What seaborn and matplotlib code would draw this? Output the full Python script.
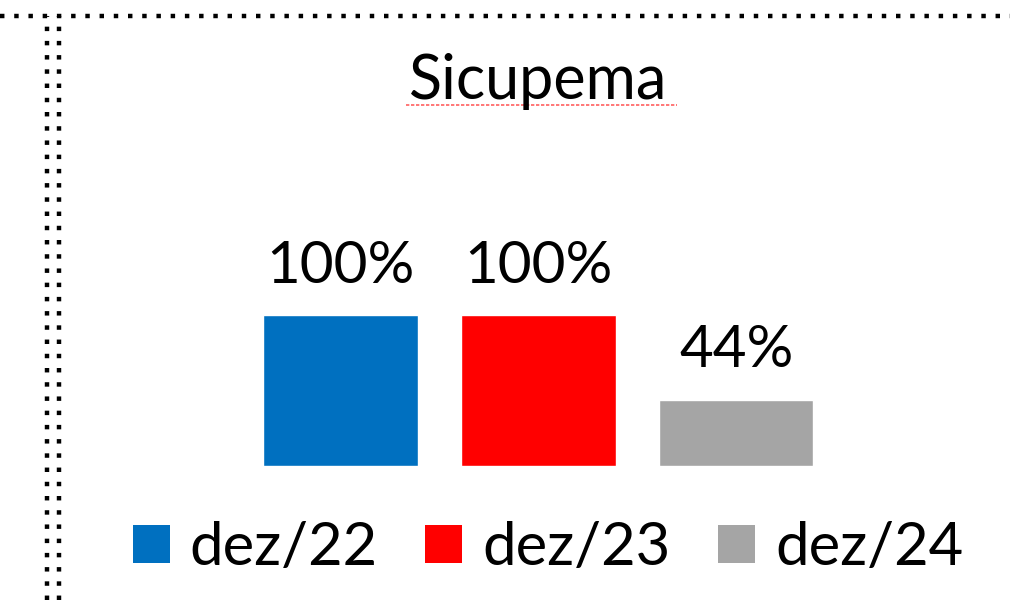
import matplotlib
matplotlib.use('Agg')
import matplotlib.pyplot as plt
import seaborn as sns
from matplotlib.lines import Line2D
from matplotlib.patches import Patch

periods = ['dez/22', 'dez/23', 'dez/24']
values = [1.00, 1.00, 0.44]
labels = ['100%', '100%', '44%']
colors = ['#0070C0', '#FF0000', '#A5A5A5']
title = 'Sicupema'

sns.set_style('white')
plt.rcParams['font.family'] = ['Lato', 'DejaVu Sans']
plt.rcParams['text.color'] = 'black'

fig = plt.figure(figsize=(10.1, 6), dpi=100)
ax = fig.add_axes([0.239, 0.2233, 0.588, 0.2517])

sns.barplot(x=periods, y=values, hue=periods, palette=colors, width=0.78,
            legend=False, saturation=1, ax=ax)
ax.set_ylim(0, 1)
ax.set_xlim(-0.5, 2.5)
ax.axis('off')

for cont, lab in zip(ax.containers, labels):
    ax.bar_label(cont, labels=[lab], padding=16, fontsize=42, color='black')

# title with the spell-check underline
fig.text(0.533, 1 - 99 / 600, title, ha='center', va='baseline',
         fontsize=44, color='black')
fig.add_artist(Line2D([406 / 1010, 677 / 1010], [1 - 105 / 600] * 2,
                      color='#FF6060', lw=1.2, ls=(0, (2, 1))))

# dotted frame of the slide box
dots = dict(color='black', lw=3.2, ls=(0, (1, 2.2)), dash_capstyle='butt')
fig.add_artist(Line2D([0, 1], [1 - 16 / 600] * 2, **dots))
fig.add_artist(Line2D([47 / 1010] * 2, [0, 1 - 16 / 600], **dots))
fig.add_artist(Line2D([59 / 1010] * 2, [0, 1 - 16 / 600], **dots))

handles = [Patch(facecolor=c, edgecolor='none') for c in colors]
leg = fig.legend(handles, periods, loc='center', bbox_to_anchor=(0.5426, 0.0867),
                 ncol=3, frameon=False, fontsize=43, handlelength=0.62,
                 handleheight=0.62, handletextpad=0.33, columnspacing=0.8)
for t in leg.get_texts():
    t.set_color('black')

fig.savefig('out.png', dpi=100)
